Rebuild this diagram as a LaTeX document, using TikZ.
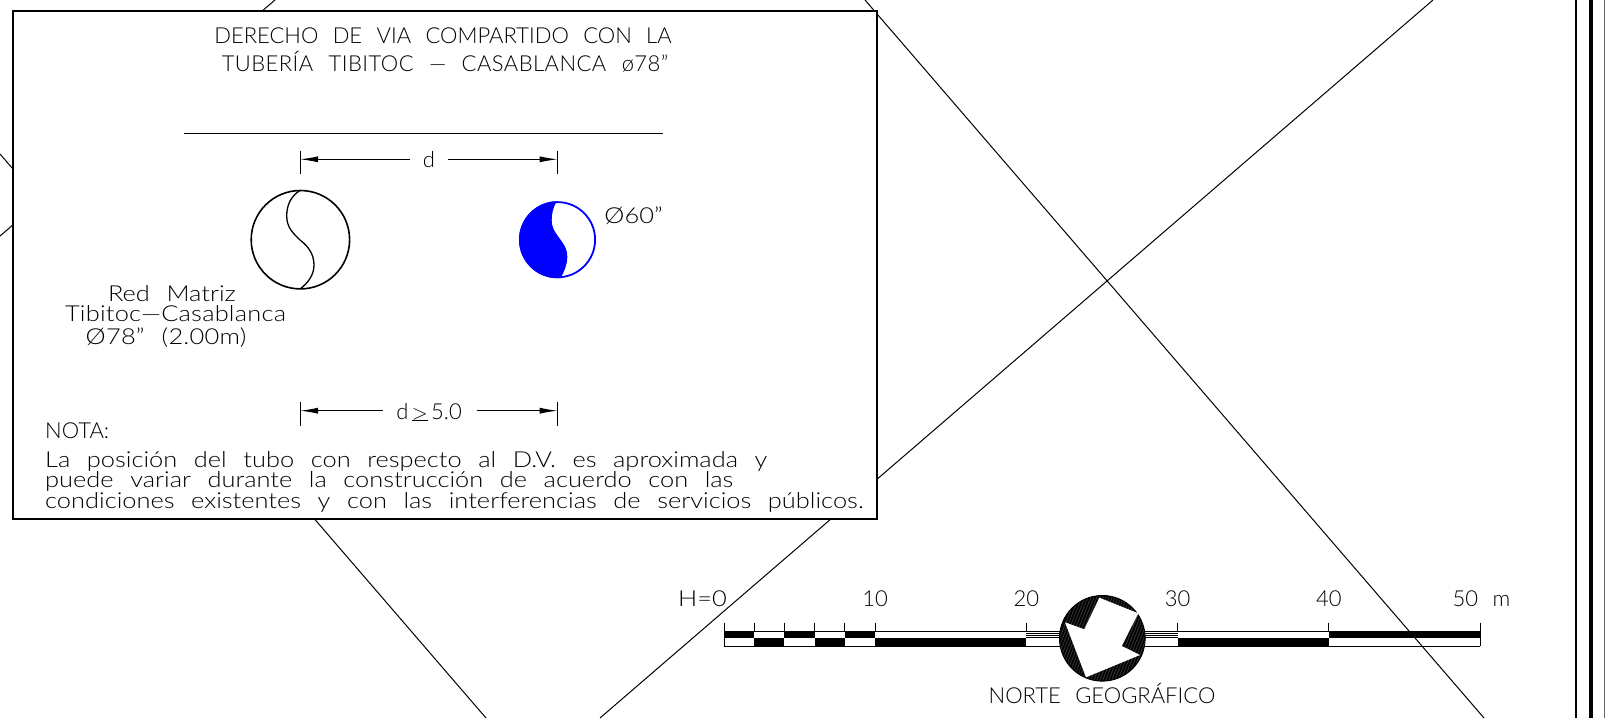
\documentclass[tikz,border=0pt]{standalone}
\usepackage{fontspec}
\setmainfont[WordSpace=2.4]{Lato Light}
\newfontfamily\cadwide[WordSpace=2.4,FakeStretch=1.155]{Lato Light}
\usetikzlibrary{arrows.meta}
\tikzset{
	cadline/.style={line width=1pt, black},
	boxline/.style={line width=2pt, black},
	pipeline/.style={line width=1.6pt, black},
	cadtext/.style={inner sep=0pt, anchor=base, font=\fontsize{22}{22}\selectfont},
	widetext/.style={inner sep=0pt, anchor=base, font=\fontsize{22}{22}\cadwide},
}
\begin{document}
\begin{tikzpicture}[
		x=1pt, y=-1pt, >={Latex[length=18pt,width=6pt]},
		declare function = {
				bx(\m) = 724 + 15.12*\m;
			},
	]
	\useasboundingbox (0,0) rectangle (1605,718);
	\draw[cadline] (865,0) -- (1484,718);
	\draw[cadline] (0,154) -- (486,718);
	\draw[cadline] (600,718) -- (1433,0);
	\draw[cadline] (0,236) -- (275,0);
	\fill[white] (13,11) rectangle (877,519);
	\draw[boxline] (13,11) rectangle (877,519);
	\draw[line width=2pt] (1576,0) -- (1576,718);
	\draw[line width=4pt] (1591.3,0) -- (1591.3,718);
	\draw[line width=1pt, black!60] (1604.5,0) -- (1604.5,718);
	\node[cadtext] (titleA) at (443,43.3) {DERECHO DE VIA COMPARTIDO CON LA};
	\node[cadtext, font=\fontsize{22}{22}\selectfont\addfontfeature{LetterSpace=2}] (titleB) at (445,71.3) {TUBERÍA TIBITOC — CASABLANCA ø78”};
	\coordinate (ruleL) at (184,133.5);
	\coordinate (ruleR) at (663,133.5);
	\draw[line width=1.2pt] (ruleL) -- (ruleR);
	\foreach \ya/\yb in {150.7/174, 402/425.7} {
			\draw[cadline] (300,\ya) -- (300,\yb);
			\draw[cadline] (557.7,\ya) -- (557.7,\yb);
		}
	\node[cadtext] (dimA) at (429,167) {d};
	\coordinate (dimAl) at (300,159.3);
	\coordinate (dimAr) at (557.7,159.3);
	\draw[cadline, <-] (dimAl) -- (410,159.3);
	\draw[cadline, ->] (448,159.3) -- (dimAr);
	\node[cadtext] (dimB) at (429,419) {d$\,\underline{\smash{>}}\,$5.0};
	\coordinate (dimBl) at (300,410.7);
	\coordinate (dimBr) at (557.7,410.7);
	\draw[cadline, <-] (dimBl) -- (383,410.7);
	\draw[cadline, ->] (476.5,410.7) -- (dimBr);
	\coordinate (pipeA) at (300.4,239.7);
	\draw[pipeline] (pipeA) circle[radius=49.2pt];
	\draw[line width=1.3pt] (300,190.5) .. controls (291,196) and (286.7,205) .. (286.7,216)
		.. controls (286.7,228) and (294,234) .. (300,240)
		.. controls (308,246) and (314,254) .. (314,265)
		.. controls (314,275) and (308,283) .. (300,289);
	\coordinate (pipeB) at (557.5,239.7);
	\begin{scope}
		\clip (pipeB) circle[radius=38.5pt];
		\fill[blue] (557,201) .. controls (553,207) and (551.7,214) .. (551.7,220)
			.. controls (551.7,228) and (555,232) .. (558.5,237)
			.. controls (563,243) and (567.3,248) .. (567.3,256.7)
			.. controls (567.3,265) and (564,272) .. (560,279)
			-- (500,279) -- (500,201) -- cycle;
	\end{scope}
	\draw[blue, line width=1.8pt] (pipeB) circle[radius=37.6pt];
	\node[widetext] (labelB) at (633.5,223.3) {Ø60”};
	\node[widetext] (labelA) at (172,301) {Red Matriz};
	\node[widetext, font=\fontsize{22}{22}\cadwide\addfontfeature{LetterSpace=1}] (labelC) at (175.5,321.7) {Tibitoc—Casablanca};
	\node[widetext, font=\fontsize{22}{22}\cadwide\addfontfeature{LetterSpace=1}] (labelD) at (166,344) {Ø78” (2.00m)};
	\node[cadtext, anchor=base west] (nota) at (45,438.3) {NOTA:};
	\node[widetext, anchor=base west] (noteA) at (45,467.3) {La posición del tubo con respecto al D.V. es aproximada y};
	\node[widetext, anchor=base west] (noteB) at (45,487.3) {puede variar durante la construcción de acuerdo con las};
	\node[widetext, anchor=base west] (noteC) at (45,508.3) {condiciones existentes y con las interferencias de servicios públicos.};
	\foreach \a/\b in {0/2, 4/6, 8/10, 40/50}
	\fill ({bx(\a)},630.5) rectangle ({bx(\b)},638.4);
	\foreach \a/\b in {2/4, 6/8, 10/20, 30/40}
	\fill ({bx(\a)},638.4) rectangle ({bx(\b)},646.7);
	\foreach \y in {631.5,633.5,635.5,637.5}
	\draw[line width=1pt] ({bx(20)},\y) -- ({bx(30)},\y);
	\draw[cadline] ({bx(0)},631) -- ({bx(50)},631);
	\draw[cadline] ({bx(0)},646.3) -- ({bx(50)},646.3);
	\draw[cadline] ({bx(0)},622.7) -- ({bx(0)},646.3);
	\draw[cadline] ({bx(50)},622.7) -- ({bx(50)},646.3);
	\foreach \m in {2,4,6,8,10,20,30,40}
	\draw[cadline] ({bx(\m)},622.7) -- ({bx(\m)},631);
	\node[widetext] (scaleH) at (702.5,606.7) {H=0};
	\foreach \m in {10,20,30,40}
	\node[cadtext] (scale\m) at ({bx(\m)},606.7) {\m};
	\node[cadtext] (scaleE) at (1481.5,606.7) {50 m};
	\coordinate (north) at (1102.3,638.3);
	\fill[black!78] (north) circle[radius=42.8pt];
	\begin{scope}
		\clip (north) circle[radius=42.8pt];
		\foreach \d in {-60,-57,...,60}
		\draw[line width=1.8pt] (1102.3+\d-20,690) -- (1102.3+\d+20,590);
	\end{scope}
	\draw[cadline] (north) circle[radius=42.8pt];
	\fill[white] (1099.3,597.7) -- (1138.3,613.3) -- (1121.7,646) -- (1140,655) -- (1086,677.3) -- (1065,622.3) -- (1084.3,629.3) -- cycle;
	\node[cadtext] (norte) at (1102,703.3) {NORTE GEOGRÁFICO};
\end{tikzpicture}
\end{document}
